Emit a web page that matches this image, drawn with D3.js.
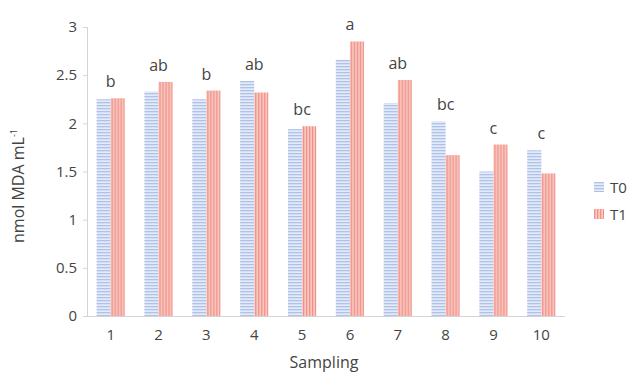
<!DOCTYPE html>
<html>
<head>
<meta charset="utf-8">
<script src="https://cdn.jsdelivr.net/npm/d3@7"></script>
<style>
  body { margin: 0; background: #fff; }
  text { font-family: "Open Sans", "DejaVu Sans", sans-serif; fill: #444; }
</style>
</head>
<body>
<svg width="640" height="375"></svg>
<script>
const samplings = ["1", "2", "3", "4", "5", "6", "7", "8", "9", "10"];
const seriesNames = ["T0", "T1"];
const t0Values = [2.25, 2.33, 2.25, 2.44, 1.94, 2.66, 2.21, 2.02, 1.50, 1.72];
const t1Values = [2.26, 2.43, 2.34, 2.32, 1.97, 2.85, 2.45, 1.67, 1.78, 1.48];
const letters = ["b", "ab", "b", "ab", "bc", "a", "ab", "bc", "c", "c"];
const yTicks = [0, 0.5, 1, 1.5, 2, 2.5, 3];

const svg = d3.select("svg");
const margin = { left: 87, right: 75, top: 27, bottom: 59 };
const width = 640, height = 375;

// stripe patterns
const defs = svg.append("defs");
const p0 = defs.append("pattern").attr("id", "pT0")
  .attr("patternUnits", "userSpaceOnUse").attr("width", 4).attr("height", 3);
p0.append("rect").attr("width", 4).attr("height", 3).attr("fill", "#e4ebf8");
p0.append("rect").attr("width", 4).attr("height", 1.3).attr("fill", "#b0c2e9");
const p1 = defs.append("pattern").attr("id", "pT1")
  .attr("patternUnits", "userSpaceOnUse").attr("width", 3).attr("height", 4);
p1.append("rect").attr("width", 3).attr("height", 4).attr("fill", "#f9c9c2");
p1.append("rect").attr("width", 1.3).attr("height", 4).attr("fill", "#ef9288");
const fills = { T0: "url(#pT0)", T1: "url(#pT1)" };

const x = d3.scaleBand().domain(samplings)
  .range([margin.left, width - margin.right]).paddingInner(0.41).paddingOuter(0.2);
const xs = d3.scaleBand().domain(seriesNames).range([0, x.bandwidth()]);
const y = d3.scaleLinear().domain([0, 3]).range([height - margin.bottom, margin.top]);

// y axis
const yAxis = svg.append("g").attr("transform", `translate(${margin.left},0)`)
  .call(d3.axisLeft(y).tickValues(yTicks).tickSize(4).tickPadding(6).tickFormat(d3.format("")));
yAxis.select(".domain").attr("stroke", "#d4d4d4");
yAxis.selectAll(".tick line").attr("stroke", "#d4d4d4");
yAxis.selectAll("text").attr("font-size", 15).attr("fill", "#444");

const rows = samplings.map((s, i) => ({ s, T0: t0Values[i], T1: t1Values[i], letter: letters[i] }));

const groups = svg.selectAll(".grp").data(rows).enter().append("g")
  .attr("class", "grp").attr("transform", d => `translate(${x(d.s)},0)`);

groups.selectAll("rect").data(d => seriesNames.map(k => ({ k, v: d[k] }))).enter()
  .append("rect")
  .attr("x", d => xs(d.k))
  .attr("width", xs.bandwidth())
  .attr("y", d => y(d.v))
  .attr("height", d => y(0) - y(d.v))
  .attr("fill", d => fills[d.k]);

groups.append("text")
  .attr("x", x.bandwidth() / 2)
  .attr("y", d => y(Math.max(d.T0, d.T1)) - 11)
  .attr("text-anchor", "middle")
  .attr("font-size", 16)
  .attr("fill", "#333")
  .text(d => d.letter);

// x axis
const xAxis = svg.append("g").attr("transform", `translate(0,${y(0)})`)
  .call(d3.axisBottom(x).tickSize(0).tickPadding(13));
xAxis.select(".domain").attr("stroke", "#d4d4d4").attr("d", `M${margin.left},0.5H${width - margin.right}`);
xAxis.selectAll("text").attr("font-size", 15).attr("fill", "#444");

// axis titles
svg.append("text").attr("x", 324).attr("y", 368)
  .attr("text-anchor", "middle").attr("font-size", 16).attr("fill", "#444").text("Sampling");

const yl = svg.append("text")
  .attr("transform", "translate(24,186) rotate(-90)")
  .attr("text-anchor", "middle").attr("font-size", 16).attr("fill", "#444");
yl.append("tspan").text("nmol MDA mL");
yl.append("tspan").attr("font-size", 9).attr("dy", -7).text("-1");

// legend
const legend = svg.selectAll(".leg").data(seriesNames).enter().append("g")
  .attr("transform", (d, i) => `translate(594,${182 + i * 27})`);
legend.append("rect").attr("width", 10).attr("height", 10).attr("fill", d => fills[d]);
legend.append("text").attr("x", 16).attr("y", 11).attr("font-size", 15).attr("fill", "#333").text(d => d);
</script>
</body>
</html>
